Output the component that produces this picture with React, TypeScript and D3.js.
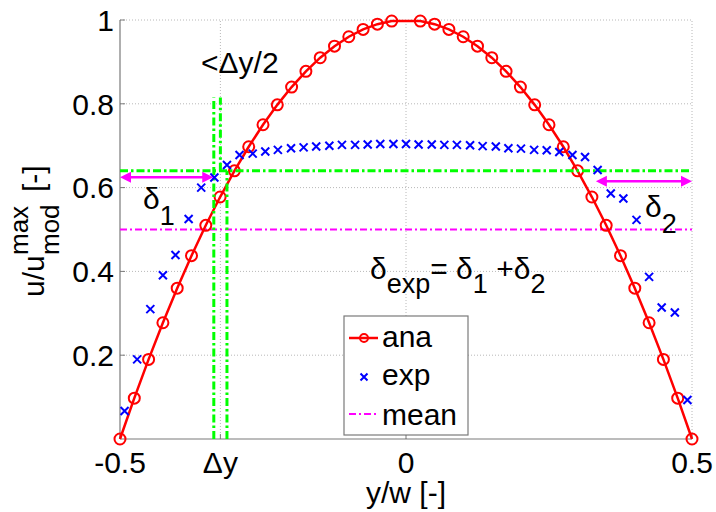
import React from "react";
import * as d3 from "d3";

// ---------- data ----------
const anaY = [
  -0.5, -0.475, -0.45, -0.425, -0.4, -0.375, -0.35, -0.325, -0.3, -0.275,
  -0.25, -0.225, -0.2, -0.175, -0.15, -0.125, -0.1, -0.075, -0.05, -0.025,
  0.025, 0.05, 0.075, 0.1, 0.125, 0.15, 0.175, 0.2, 0.225, 0.25,
  0.275, 0.3, 0.325, 0.35, 0.375, 0.4, 0.425, 0.45, 0.475, 0.5,
];
const anaU = [
  0, 0.0975, 0.19, 0.2775, 0.36, 0.4375, 0.51, 0.5775, 0.64, 0.6975,
  0.75, 0.7975, 0.84, 0.8775, 0.91, 0.9375, 0.96, 0.9775, 0.99, 0.9975,
  0.9975, 0.99, 0.9775, 0.96, 0.9375, 0.91, 0.8775, 0.84, 0.7975, 0.75,
  0.6975, 0.64, 0.5775, 0.51, 0.4375, 0.36, 0.2775, 0.19, 0.0975, 0,
];
const expY = [
  -0.492, -0.47, -0.447, -0.425, -0.403, -0.38, -0.358, -0.335, -0.313, -0.291,
  -0.268, -0.246, -0.224, -0.201, -0.179, -0.157, -0.134, -0.112, -0.089, -0.067,
  -0.045, -0.022, 0, 0.022, 0.045, 0.067, 0.089, 0.112, 0.134, 0.157,
  0.179, 0.201, 0.224, 0.246, 0.268, 0.291, 0.313, 0.335, 0.358, 0.38,
  0.403, 0.425, 0.447, 0.47, 0.492,
];
const expU = [
  0.067, 0.19, 0.31, 0.391, 0.439, 0.525, 0.6, 0.624, 0.654, 0.678,
  0.681, 0.686, 0.69, 0.694, 0.696, 0.698, 0.7, 0.702, 0.702, 0.703,
  0.704, 0.704, 0.704, 0.703, 0.703, 0.702, 0.702, 0.701, 0.699, 0.698,
  0.694, 0.693, 0.69, 0.689, 0.685, 0.678, 0.673, 0.642, 0.586, 0.574,
  0.523, 0.387, 0.314, 0.302, 0.093,
];
const yTicks = [0.2, 0.4, 0.6, 0.8, 1];
const yTickLabels = ["0.2", "0.4", "0.6", "0.8", "1"];
const xTicks = [-0.5, -0.3245, 0, 0.5];
const xTickLabels = ["-0.5", "\u0394y", "0", "0.5"];
const meanValue = 0.5;
const thresholdValue = 0.64;
const guideLeftY = -0.336;
const guideRightY = -0.313;
const guideHalfY = -0.3245;
const guideTopU = 0.815;
const delta1Span = [-0.5, -0.337];
const delta1U = 0.625;
const delta2Span = [0.332, 0.5];
const delta2U = 0.615;
const legendLabels = ["ana", "exp", "mean"];

// ---------- layout ----------
const W = 716;
const H = 512;
const FONT = "'Liberation Sans', Arial, Helvetica, sans-serif";
const RED = "#ff0000";
const BLUE = "#0000ff";
const GREEN = "#00ff00";
const MAGENTA = "#ff00ff";
const AXIS = "#7a7a7a";
const GRID = "#b8b8b8";

export default function App() {
  const x = d3.scaleLinear().domain([-0.5, 0.5]).range([120, 692]);
  const y = d3.scaleLinear().domain([0, 1]).range([439, 20]);
  const line = d3
    .line<number>()
    .x((_, i) => x(anaY[i]))
    .y((d) => y(d));
  const anaPath = line(anaU) || "";

  const cross = (cx: number, cy: number, s: number) =>
    `M${cx - s},${cy - s}L${cx + s},${cy + s}M${cx - s},${cy + s}L${cx + s},${cy - s}`;

  const arrow = (x0: number, x1: number, yy: number) => {
    const hl = 11;
    const hw = 5.5;
    return (
      <g>
        <line x1={x0 + hl - 1} x2={x1 - hl + 1} y1={yy} y2={yy} stroke={MAGENTA} strokeWidth={2.5} />
        <path d={`M${x0},${yy}L${x0 + hl},${yy - hw}L${x0 + hl},${yy + hw}Z`} fill={MAGENTA} />
        <path d={`M${x1},${yy}L${x1 - hl},${yy - hw}L${x1 - hl},${yy + hw}Z`} fill={MAGENTA} />
      </g>
    );
  };

  const dashDot = "7,3,2,3";
  const greenDash = "8,3,2.5,3";

  return (
    <svg
      width={W}
      height={H}
      style={{ position: "absolute", left: 0, top: 0, background: "#fff" }}
      fontFamily={FONT}
    >
      <rect x={0} y={0} width={W} height={H} fill="#fff" />
      {/* grid */}
      {yTicks.map((t) => (
        <line key={"gy" + t} x1={x(-0.5)} x2={x(0.5)} y1={y(t)} y2={y(t)} stroke={GRID} strokeWidth={1} strokeDasharray="1,2" />
      ))}
      {xTicks.slice(1).map((t) => (
        <line key={"gx" + t} x1={x(t)} x2={x(t)} y1={y(0)} y2={y(1)} stroke={GRID} strokeWidth={1} strokeDasharray="1,2" />
      ))}
      {/* axes */}
      <line x1={x(-0.5)} x2={x(-0.5)} y1={y(0)} y2={y(1)} stroke={AXIS} strokeWidth={1.2} />
      <line x1={x(-0.5)} x2={x(0.5)} y1={y(0)} y2={y(0)} stroke={AXIS} strokeWidth={1.2} />
      {yTicks.map((t) => (
        <line key={"ty" + t} x1={x(-0.5)} x2={x(-0.5) + 5} y1={y(t)} y2={y(t)} stroke={AXIS} />
      ))}
      {xTicks.map((t) => (
        <line key={"tx" + t} x1={x(t)} x2={x(t)} y1={y(0)} y2={y(0) - 5} stroke={AXIS} />
      ))}
      {/* tick labels */}
      {yTicks.map((t, i) => (
        <text key={"ly" + t} x={114} y={y(t)} dy="0.36em" textAnchor="end" fontSize={30} fill="#000">
          {yTickLabels[i]}
        </text>
      ))}
      {xTicks.map((t, i) => (
        <text key={"lx" + t} x={x(t)} y={473} textAnchor="middle" fontSize={30} fill="#000">
          {xTickLabels[i]}
        </text>
      ))}
      {/* axis labels */}
      <text x={x(0)} y={503} textAnchor="middle" fontSize={30} fill="#000">
        y/w [-]
      </text>
      <g transform="translate(44,232) rotate(-90)">
        <text x={-65} y={0} fontSize={30} fill="#000">u/u</text>
        <text x={-23} y={-16} fontSize={26} fill="#000">max</text>
        <text x={-23} y={15} fontSize={26} fill="#000">mod</text>
        <text x={40} y={0} fontSize={30} fill="#000">[-]</text>
      </g>
      {/* mean line */}
      <line x1={x(-0.5)} x2={x(0.5)} y1={y(meanValue)} y2={y(meanValue)} stroke={MAGENTA} strokeWidth={2} strokeDasharray={dashDot} />
      {/* analytical */}
      <path d={anaPath} fill="none" stroke={RED} strokeWidth={2.5} />
      {anaU.map((u, i) => (
        <circle key={"c" + i} cx={x(anaY[i])} cy={y(u)} r={5.5} fill="none" stroke={RED} strokeWidth={2} />
      ))}
      {/* green guides */}
      <line x1={x(-0.5)} x2={x(0.5)} y1={y(thresholdValue)} y2={y(thresholdValue)} stroke={GREEN} strokeWidth={3} strokeDasharray={greenDash} />
      <line x1={x(guideLeftY)} x2={x(guideLeftY)} y1={y(0)} y2={y(guideTopU)} stroke={GREEN} strokeWidth={3} strokeDasharray={greenDash} />
      <line x1={x(guideRightY)} x2={x(guideRightY)} y1={y(0)} y2={y(thresholdValue)} stroke={GREEN} strokeWidth={3} strokeDasharray={greenDash} />
      <line x1={x(guideHalfY)} x2={x(guideHalfY)} y1={y(thresholdValue)} y2={y(guideTopU)} stroke={GREEN} strokeWidth={3} strokeDasharray={greenDash} />
      {/* arrows */}
      {arrow(x(delta1Span[0]), x(delta1Span[1]), y(delta1U))}
      {arrow(x(delta2Span[0]), x(delta2Span[1]), y(delta2U))}
      {/* experimental */}
      {expU.map((u, i) => (
        <path key={"x" + i} d={cross(x(expY[i]), y(u), 4)} stroke={BLUE} strokeWidth={2} fill="none" />
      ))}
      {/* annotations */}
      <text x={201} y={73} fontSize={30} fill="#000">&lt;{"\u0394"}y/2</text>
      <text x={143} y={209} fontSize={30} fill="#000">
        {"\u03b4"}
        <tspan dy={16} fontSize={27}>1</tspan>
      </text>
      <text x={645} y={217} fontSize={30} fill="#000">
        {"\u03b4"}
        <tspan dy={16} fontSize={27}>2</tspan>
      </text>
      <text x={370} y={279} fontSize={30} fill="#000">
        {"\u03b4"}
        <tspan dy={14} fontSize={27}>exp</tspan>
        <tspan dy={-14}>= {"\u03b4"}</tspan>
        <tspan dy={14} fontSize={27}>1</tspan>
        <tspan dy={-14}> +{"\u03b4"}</tspan>
        <tspan dy={14} fontSize={27}>2</tspan>
      </text>
      {/* legend */}
      <rect x={344} y={316} width={124} height={119} fill="#fff" stroke={AXIS} strokeWidth={1.2} />
      <line x1={349} x2={378} y1={338} y2={338} stroke={RED} strokeWidth={2.5} />
      <circle cx={364} cy={338} r={4} fill="none" stroke={RED} strokeWidth={2} />
      <path d={cross(364, 377, 3.5)} stroke={BLUE} strokeWidth={2} />
      <line x1={349} x2={378} y1={414} y2={414} stroke={MAGENTA} strokeWidth={2} strokeDasharray={dashDot} />
      <text x={382} y={347} fontSize={30} fill="#000">{legendLabels[0]}</text>
      <text x={382} y={385} fontSize={30} fill="#000">{legendLabels[1]}</text>
      <text x={382} y={425} fontSize={30} fill="#000">{legendLabels[2]}</text>
    </svg>
  );
}
